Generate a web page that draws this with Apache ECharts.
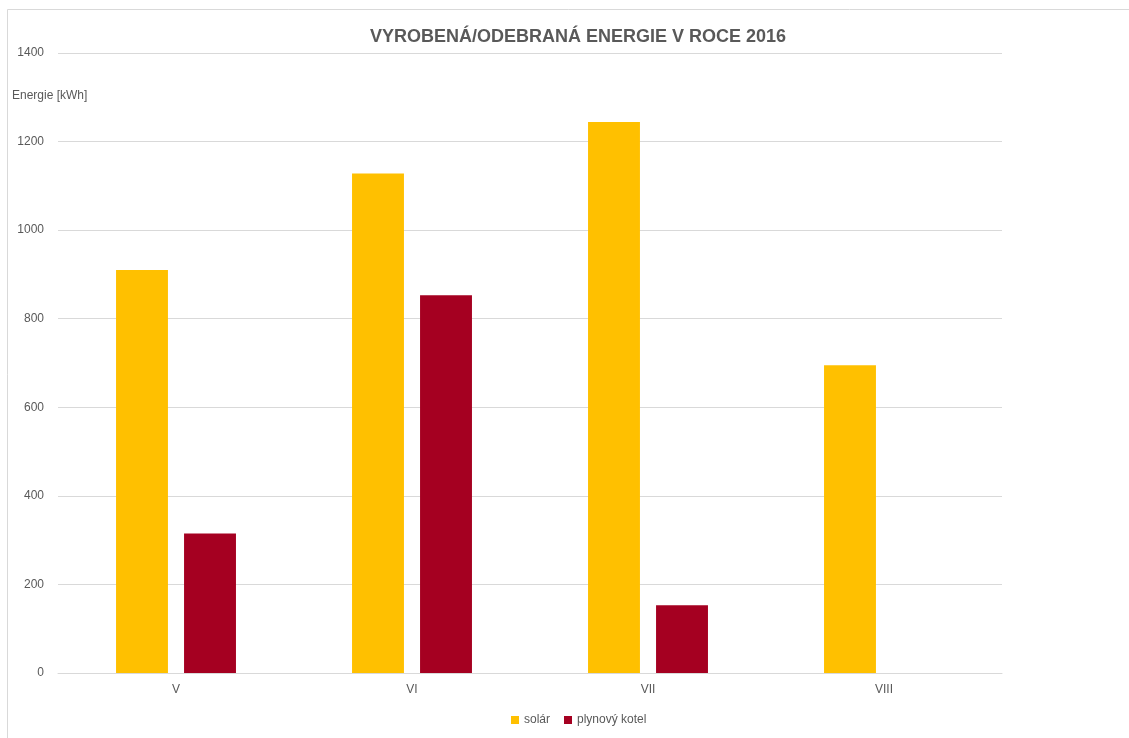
<!DOCTYPE html>
<html>
<head>
<meta charset="utf-8">
<script src="https://cdn.jsdelivr.net/npm/echarts@6/dist/echarts.min.js"></script>
<style>
  html, body { margin: 0; padding: 0; background: #fff; }
  #divChart { width: 1129px; height: 738px; }
</style>
</head>
<body>
<div id="divChart"></div>
<script>
// data
var months = ['V', 'VI', 'VII', 'VIII'];
var solar = [910, 1128, 1244, 695];
var kotel = [315, 853, 153, null];
var seriesNames = ['solár', 'plynový kotel'];
var yTicks = [0, 200, 400, 600, 800, 1000, 1200, 1400];

var textColor = '#595959';
var lineColor = '#d9d9d9';
var fontName = '"Liberation Sans", "DejaVu Sans", sans-serif';

var divChart = echarts.init(document.getElementById('divChart'));

var option = {
  backgroundColor: '#fff',
  animation: false,
  title: {
    text: 'VYROBENÁ/ODEBRANÁ ENERGIE V ROCE 2016',
    left: 573,
    top: 23,
    textAlign: 'center',
    textStyle: { color: textColor, fontSize: 18, fontWeight: 'bold', fontFamily: fontName }
  },
  graphic: [
    {
      type: 'rect', silent: true,
      shape: { x: 7.5, y: 9.5, width: 1200, height: 760 },
      style: { fill: 'none', stroke: lineColor, lineWidth: 1 }
    },
    {
      type: 'text', left: 12, top: 90,
      style: { text: 'Energie [kWh]', fill: textColor, font: '12px ' + fontName }
    }
  ],
  legend: {
    data: seriesNames,
    bottom: 7,
    left: 506,
    itemWidth: 8,
    itemHeight: 8,
    itemGap: 14,
    icon: 'rect',
    textStyle: { color: textColor, fontSize: 12, fontFamily: fontName }
  },
  grid: { left: 58, right: 127, top: 53, bottom: 65, containLabel: false },
  xAxis: {
    type: 'category',
    data: months,
    axisLine: { lineStyle: { color: lineColor } },
    axisTick: { show: false },
    axisLabel: { color: textColor, fontSize: 12, margin: 11, fontFamily: fontName }
  },
  yAxis: {
    type: 'value',
    min: yTicks[0],
    max: yTicks[yTicks.length - 1],
    interval: 200,
    axisLine: { show: false },
    axisTick: { show: false },
    axisLabel: {
      color: textColor, fontSize: 12, margin: 14, fontFamily: fontName,
      formatter: function (v) { return String(v); }
    },
    splitLine: { lineStyle: { color: lineColor } }
  },
  series: [
    {
      name: seriesNames[0], type: 'bar', data: solar,
      barWidth: '22%', barGap: '31%',
      itemStyle: { color: '#ffc000' }
    },
    {
      name: seriesNames[1], type: 'bar', data: kotel,
      barWidth: '22%',
      itemStyle: { color: '#a50021' }
    }
  ]
};

divChart.setOption(option);
</script>
</body>
</html>
